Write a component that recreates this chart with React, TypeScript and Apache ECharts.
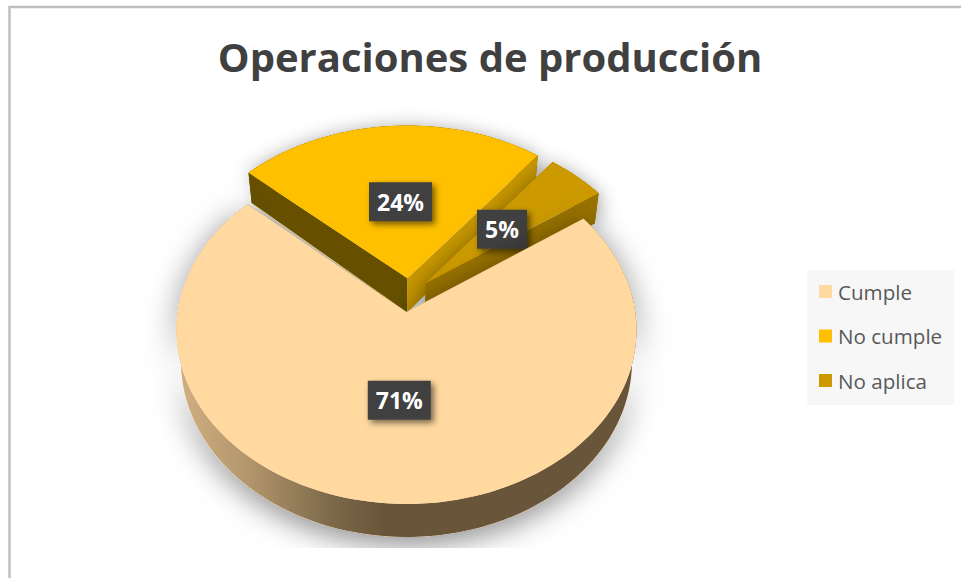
import React, { useEffect, useRef } from "react";
import * as echarts from "echarts";

const categories = ["Cumple", "No cumple", "No aplica"];
const values = [71.4, 23.9, 4.7];
const titleText = "Operaciones de producción";
const firstSliceAngle = 55;

const topColors = ["#FFD99F", "#FFC000", "#CC9A00"];
const startWallColors = ["#7A6748", "#665000", "#997300"];
const endWallColors = ["#7A6748", "#C79700", "#997300"];
const explodeOffsets = [[0, 0], [0.004, 0.2], [0.085, 0.17]];
const radii = [1.0, 1.02, 1.0];
const apexExtra = [0, 3, 0];
const labelNudge = [0, 0.01, 0];
const seriesZ = [3, 1, 2];

const CX = 406.5, CY = 312, A = 228.8, B = 172.1, K = 0.1034;
const project = (u: number, v: number): [number, number] => {
  const d = 1 + K * v;
  return [CX + (A * u) / d, CY - (B * v) / d];
};
const lower = (p: [number, number], v: number): [number, number] => [
  CX + (p[0] - CX) * 0.98,
  p[1] + 31.5 - 1.5 * v,
];

const total = values.reduce((s, x) => s + x, 0);

function renderSlice(index: number) {
  return (_params: any, api: any) => {
    const value = api.value(0);
    const before = values.slice(0, index).reduce((s, x) => s + x, 0);
    const start = firstSliceAngle + (before / total) * 360;
    const sweep = (value / total) * 360;
    const [ox, oy] = explodeOffsets[index];
    const R = radii[index];
    const rim: { top: [number, number]; bot: [number, number] }[] = [];
    const steps = Math.ceil(sweep / 2);
    for (let i = 0; i <= steps; i++) {
      const t = ((start + (sweep * i) / steps) * Math.PI) / 180;
      const u = ox + R * Math.sin(t);
      const v = oy + R * Math.cos(t);
      const p = project(u, v);
      rim.push({ top: p, bot: lower(p, v) });
    }
    const apexTop = project(ox, oy);
    const apexBase = lower(apexTop, oy);
    const apexBot: [number, number] = [apexBase[0], apexBase[1] + apexExtra[index]];
    const topPts = [apexTop, ...rim.map((r) => r.top)];
    const outline = [...rim.map((r) => r.top), ...rim.map((r) => r.bot).reverse()];
    const hull = [apexTop, ...rim.map((r) => r.top), ...rim.map((r) => r.bot).reverse(), apexBot];

    const children: any[] = [];
    children.push({
      type: "polygon",
      shape: { points: hull },
      style: {
        fill: topColors[index],
        shadowBlur: index === 0 ? 30 : 20,
        shadowColor: index === 0 ? "rgba(0,0,0,0.5)" : "rgba(0,0,0,0.45)",
        shadowOffsetX: 0,
        shadowOffsetY: index === 0 ? 6 : 4,
      },
    });
    if (index === 0) {
      children.push({
        type: "rect",
        shape: { x: 100, y: 548, width: 640, height: 40 },
        style: { fill: "#ffffff" },
      });
    }
    children.push({
      type: "polygon",
      shape: { points: outline },
      style: {
        fill:
          index === 0
            ? new echarts.graphic.LinearGradient(0, 0, 1, 0, [
                { offset: 0, color: "#D2B084" },
                { offset: 0.16, color: "#B2956B" },
                { offset: 0.34, color: "#7B6849" },
                { offset: 0.45, color: "#69563A" },
                { offset: 1, color: "#69563A" },
              ])
            : startWallColors[index],
      },
    });
    children.push({
      type: "polygon",
      shape: { points: [apexTop, rim[0].top, rim[0].bot, apexBot] },
      style: { fill: startWallColors[index] },
    });
    const last = rim[rim.length - 1];
    children.push({
      type: "polygon",
      shape: { points: [apexTop, last.top, last.bot, apexBot] },
      style: { fill: endWallColors[index] },
    });
    children.push({
      type: "polygon",
      shape: { points: topPts },
      style: { fill: topColors[index] },
    });

    const mid = ((start + sweep / 2) * Math.PI) / 180;
    const [lx, ly] = project(
      ox + labelNudge[index] + 0.488 * Math.sin(mid),
      oy + 0.488 * Math.cos(mid)
    );
    const label = `${Math.round((value / total) * 100)}%`;
    const boxW = label.length > 2 ? 63 : 50;
    const boxH = 39;
    children.push({
      type: "rect",
      z2: 50,
      shape: { x: lx - boxW / 2, y: ly - boxH / 2, width: boxW, height: boxH },
      style: {
        fill: "#404040",
        shadowBlur: 6,
        shadowColor: "rgba(0,0,0,0.55)",
        shadowOffsetX: 3,
        shadowOffsetY: 3,
      },
    });
    children.push({
      type: "text",
      z2: 51,
      style: {
        text: label,
        x: lx,
        y: ly,
        align: "center",
        verticalAlign: "middle",
        fill: "#ffffff",
        font: '700 23px "Open Sans"',
      },
    });
    return { type: "group", children };
  };
}

export default function App() {
  const ref = useRef<HTMLDivElement>(null);
  useEffect(() => {
    document.body.style.margin = "0";
    const chart = echarts.init(ref.current!, undefined, { renderer: "svg" });
    chart.setOption({
      animation: false,
      backgroundColor: "#ffffff",
      title: {
        text: titleText,
        left: 485,
        top: 24,
        textAlign: "center",
        textStyle: {
          fontFamily: "Open Sans",
          fontWeight: 700,
          fontSize: 40,
          color: "#404040",
          lineHeight: 54,
        },
      },
      legend: {
        data: categories,
        orient: "vertical",
        left: 807,
        top: 270,
        padding: [11, 12, 14, 12],
        backgroundColor: "#F7F7F7",
        icon: "rect",
        itemWidth: 13,
        itemHeight: 13,
        itemGap: 23.5,
        textStyle: {
          fontFamily: "Open Sans",
          fontSize: 20.6,
          lineHeight: 20,
          color: "#595959",
          padding: [0, 0, 0, 1],
        },
      },
      graphic: [
        {
          type: "polyline",
          z: 0,
          shape: { points: [[9.5, 578], [9.5, 7], [961, 7]] },
          style: { stroke: "#BFBFBF", lineWidth: 2.5, fill: "none" },
        },
      ],
      series: categories.map((name, i) => ({
        type: "custom",
        name,
        coordinateSystem: "none",
        z: seriesZ[i],
        itemStyle: { color: topColors[i] },
        data: [[values[i]]],
        renderItem: renderSlice(i),
      })),
    });
    return () => chart.dispose();
  }, []);
  return <div ref={ref} style={{ width: 961, height: 578 }} />;
}
